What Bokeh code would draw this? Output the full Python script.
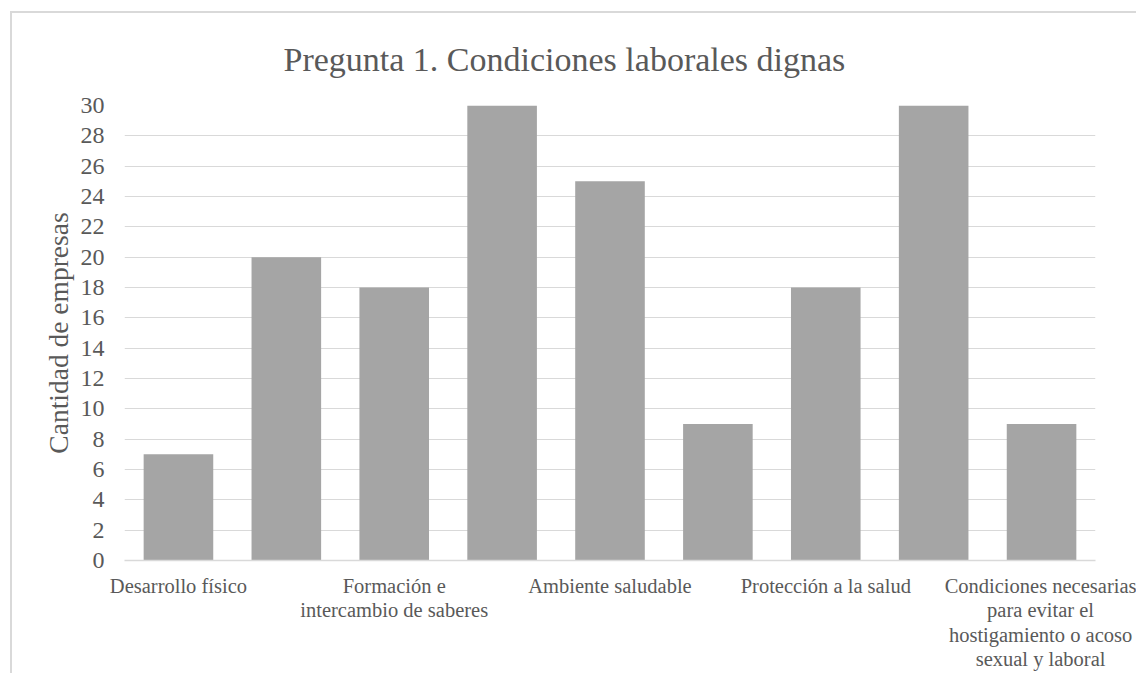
from bokeh.plotting import figure
from bokeh.models import Range1d, FixedTicker, Title, ColumnDataSource
from bokeh.embed import file_html
from bokeh.resources import INLINE

# ---- data ----
values = [7, 20, 18, 30, 25, 9, 18, 30, 9]
positions = list(range(len(values)))
# Only every other category label is visible in the reference
tick_positions = [0, 2, 4, 6, 8]
tick_labels = [
    "Desarrollo físico",
    "Formación e\nintercambio de saberes",
    "Ambiente saludable",
    "Protección a la salud",
    "Condiciones necesarias\npara evitar el\nhostigamiento o acoso\nsexual y laboral",
]
y_ticks = list(range(0, 31, 2))
title_text = "Pregunta 1. Condiciones laborales dignas"
y_label = "Cantidad de empresas"

FONT = "'Liberation Serif', 'Times New Roman', serif"
TXT = "#595959"
GRID = "#d9d9d9"
BAR = "#a5a5a5"

W, H = 1136, 673
chart_frame_css = {
    "background-color": "white",
    "background-image": "linear-gradient(#d9d9d9, #d9d9d9), linear-gradient(#d9d9d9, #d9d9d9)",
    "background-size": "2px 100%, 100% 2px",
    "background-position": "10px 11px, 10px 11px",
    "background-repeat": "no-repeat",
}
p = figure(
    width=W, height=H,
    output_backend="svg", toolbar_location=None,
    x_range=Range1d(-0.5, len(values) - 0.5),
    y_range=Range1d(0, 30),
    min_border_left=124, min_border_right=41,
    min_border_top=105, min_border_bottom=106,
    outline_line_color=None,
    border_fill_color=None,
    background_fill_color="white",
    title=None,
    styles=chart_frame_css,
)

src = ColumnDataSource(dict(x=positions, top=values))
p.vbar(x="x", top="top", width=0.645, bottom=0, source=src,
       fill_color=BAR, line_color=None)

# axes
p.xaxis.ticker = FixedTicker(ticks=tick_positions)
p.xaxis.major_label_overrides = {pos: lab for pos, lab in zip(tick_positions, tick_labels)}
p.xaxis.major_tick_line_color = None
p.xaxis.minor_tick_line_color = None
p.xaxis.major_tick_out = 0
p.xaxis.axis_line_color = GRID
p.xaxis.axis_line_width = 1.5
p.xaxis.major_label_text_font = FONT
p.xaxis.major_label_text_font_size = "20.5px"
p.xaxis.major_label_text_color = TXT
p.xaxis.major_label_standoff = 14
p.xaxis.major_label_text_line_height = 1.12

p.yaxis.ticker = FixedTicker(ticks=y_ticks)
p.yaxis.axis_line_color = None
p.yaxis.major_tick_line_color = None
p.yaxis.minor_tick_line_color = None
p.yaxis.major_tick_out = 0
p.yaxis.major_label_standoff = 20
p.yaxis.major_label_text_font = FONT
p.yaxis.major_label_text_font_size = "24px"
p.yaxis.major_label_text_color = TXT
p.yaxis.axis_label = y_label
p.yaxis.axis_label_text_font = FONT
p.yaxis.axis_label_text_font_size = "27.5px"
p.yaxis.axis_label_text_font_style = "normal"
p.yaxis.axis_label_text_color = TXT
p.yaxis.axis_label_standoff = 4

p.xgrid.grid_line_color = None
p.ygrid.grid_line_color = GRID
p.ygrid.grid_line_width = 1

p.add_layout(Title(
    text=title_text, align="left", offset=159, standoff=56,
    text_font=FONT, text_font_size="34px", text_font_style="normal",
    text_color=TXT,
), "above")

open("out.html", "w").write(file_html(p, INLINE))
